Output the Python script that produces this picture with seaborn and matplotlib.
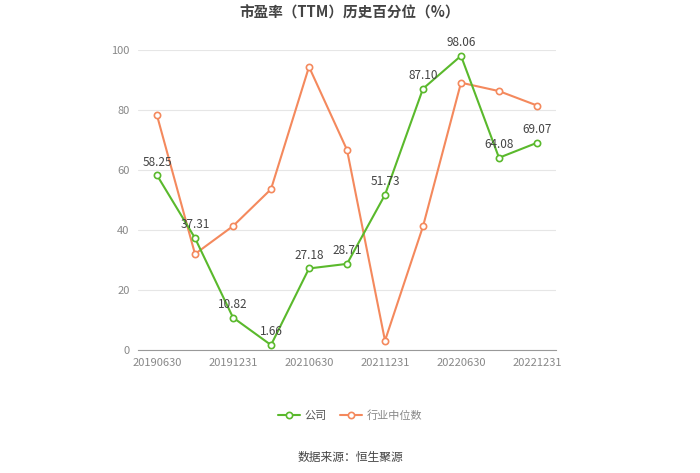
import matplotlib
matplotlib.use("Agg")
import matplotlib.pyplot as plt
import seaborn as sns
import pandas as pd
import numpy as np

dates = ["20190630", "20190930", "20191231", "20201231", "20210630", "20210930",
         "20211231", "20220331", "20220630", "20220930", "20221231"]
company = [58.25, 37.31, 10.82, 1.66, 27.18, 28.71, 51.73, 87.10, 98.06, 64.08, 69.07]
industry = [78.2, 32.0, 41.3, 53.6, 94.4, 66.7, 3.1, 41.2, 89.1, 86.3, 81.5]
shown_labels = ["20190630", "20191231", "20210630", "20211231", "20220630", "20221231"]

sns.set_theme(style="white")
plt.rcParams['font.family'] = ['Noto Sans CJK SC', 'DejaVu Sans']

green = "#5ab92c"
orange = "#f4895d"

df = pd.DataFrame({"idx": np.arange(len(dates)), "date": dates,
                   "公司": company, "行业中位数": industry})

fig = plt.figure(figsize=(7, 4.73), dpi=100)
ax = fig.add_axes([138/700, 1-350/473, 418/700, 300/473])

for col, c in [("公司", green), ("行业中位数", orange)]:
    sns.lineplot(data=df, x="idx", y=col, ax=ax, color=c, linewidth=1.5,
                 marker="o", markersize=4.5, markerfacecolor="white",
                 markeredgecolor=c, markeredgewidth=1.2, label=col, zorder=3 if col == "公司" else 2)

for i, v in enumerate(company):
    ax.text(i, v + 2.2, f"{v:.2f}", ha="center", va="bottom", fontsize=8.5, color="#444444", zorder=5)

ax.set_xlim(-0.5, len(dates) - 0.5)
ax.set_ylim(0, 100)
ax.set_yticks([0, 20, 40, 60, 80, 100])
ax.yaxis.grid(True, color="#e6e6e6", linewidth=0.8)
ax.xaxis.grid(False)
tick_pos = [dates.index(d) for d in shown_labels]
ax.set_xticks(tick_pos)
ax.set_xticklabels(shown_labels)
ax.tick_params(axis="x", colors="#888888", labelsize=8, length=4, width=0.8, direction="out", pad=2)
ax.tick_params(axis="y", colors="#888888", labelsize=8, length=0, pad=6)
ax.tick_params(axis="x", labelcolor="#888888")
for s in ["top", "right", "left"]:
    ax.spines[s].set_visible(False)
ax.spines["bottom"].set_color("#999999")
ax.spines["bottom"].set_linewidth(0.8)
ax.set_xlabel("")
ax.set_ylabel("")

leg = ax.legend(loc="center", bbox_to_anchor=(0.5, 1 - 416/473), bbox_transform=fig.transFigure,
                ncol=2, frameon=False, fontsize=8, handlelength=2.0, columnspacing=1.2,
                handletextpad=0.4)
for t in leg.get_texts():
    t.set_color("#555555")
leg.get_texts()[1].set_color("#888888")

fig.text(0.5, 1 - 13/473, "市盈率（TTM）历史百分位（%）", ha="center", va="center",
         fontsize=10.5, fontweight="bold", color="#444444")
fig.text(0.5, 1 - 457/473, "数据来源：恒生聚源", ha="center", va="center",
         fontsize=8.5, color="#444444")

fig.savefig("out.png", dpi=100)
